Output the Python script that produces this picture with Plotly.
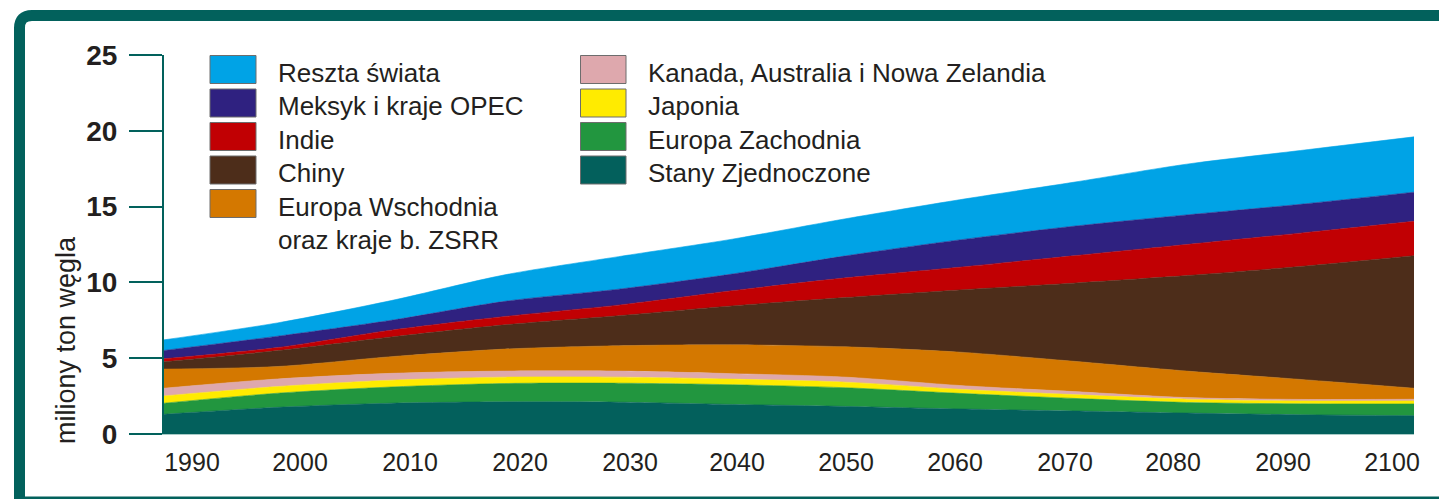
import plotly.graph_objects as go

# ---- data (miliony ton węgla), layer thickness per decade ----
years = [1990, 2000, 2010, 2020, 2030, 2040, 2050, 2060, 2070, 2080, 2090, 2100]

stany_zjednoczone = [1.30, 1.76, 2.03, 2.12, 2.10, 1.95, 1.82, 1.65, 1.52, 1.38, 1.27, 1.21]
europa_zachodnia = [0.73, 0.93, 1.07, 1.21, 1.25, 1.30, 1.23, 1.03, 0.83, 0.70, 0.72, 0.77]
japonia = [0.48, 0.44, 0.45, 0.42, 0.40, 0.37, 0.37, 0.27, 0.25, 0.22, 0.19, 0.20]
kanada_australia_nz = [0.51, 0.50, 0.45, 0.40, 0.40, 0.36, 0.33, 0.25, 0.20, 0.10, 0.10, 0.11]
europa_wschodnia = [1.26, 0.82, 1.10, 1.45, 1.67, 1.90, 2.00, 2.20, 2.00, 1.75, 1.32, 0.73]
chiny = [0.48, 1.05, 1.30, 1.60, 1.98, 2.57, 3.25, 4.10, 5.15, 6.30, 7.45, 8.74]
indie = [0.20, 0.20, 0.45, 0.55, 0.70, 1.00, 1.30, 1.50, 1.80, 2.05, 2.20, 2.27]
meksyk_opec = [0.55, 0.75, 0.65, 1.00, 1.05, 1.10, 1.45, 1.80, 1.95, 1.95, 1.90, 1.92]
reszta_swiata = [0.70, 0.88, 1.30, 1.75, 2.15, 2.30, 2.45, 2.65, 2.90, 3.35, 3.55, 3.65]

x_tick_labels = ["1990", "2000", "2010", "2020", "2030", "2040",
                 "2050", "2060", "2070", "2080", "2090", "2100"]
y_tick_values = [0, 5, 10, 15, 20, 25]

series = [
    ("Stany Zjednoczone", stany_zjednoczone, "#03605c"),
    ("Europa Zachodnia", europa_zachodnia, "#22963f"),
    ("Japonia", japonia, "#ffeb00"),
    ("Kanada, Australia i Nowa Zelandia", kanada_australia_nz, "#dea8ad"),
    ("Europa Wschodnia oraz kraje b. ZSRR", europa_wschodnia, "#d47800"),
    ("Chiny", chiny, "#4d2d1a"),
    ("Indie", indie, "#c10003"),
    ("Meksyk i kraje OPEC", meksyk_opec, "#2f2180"),
    ("Reszta świata", reszta_swiata, "#00a3e6"),
]

TEAL = "#02615c"
TXT = "#231f20"
FONT = "Liberation Sans"

fig = go.Figure()
for name, vals, col in series:
    fig.add_trace(go.Scatter(
        x=years, y=vals, name=name, mode="lines", stackgroup="one",
        line=dict(color=col, width=0.6, shape="spline", smoothing=0.8),
        fillcolor=col, showlegend=False, hoverinfo="x+y+name"))

# ---- layout geometry (page pixels) ----
W, H = 1439, 499
L, R, T, B = 164, 1414, 55, 434          # plot area in page pixels
def px(x):
    return (x - L) / (R - L)
def py(y):
    return (B - y) / (B - T)

# tick label positions (as drawn in the original, slightly offset from data years)
tick_pos = [1990 + (c - L) / (R - L) * 110 for c in
            [192, 300, 410, 520, 630, 737, 846, 955, 1065, 1173, 1283, 1392]]

shapes = []
annotations = []

# frame (rounded top-left corner)
path = (f"M {px(19.5)},{py(520)} L {px(19.5)},{py(28)} "
        f"Q {px(19.5)},{py(15.5)} {px(32)},{py(15.5)} L {px(1460)},{py(15.5)}")
shapes.append(dict(type="path", xref="paper", yref="paper", path=path,
                   line=dict(color=TEAL, width=11)))
shapes.append(dict(type="rect", xref="paper", yref="paper",
                   x0=px(14), x1=px(1460), y0=py(496.5), y1=py(520),
                   fillcolor=TEAL, line=dict(width=0)))

# manual legend
col1 = [("Reszta świata", "#00a3e6"), ("Meksyk i kraje OPEC", "#2f2180"),
        ("Indie", "#c10003"), ("Chiny", "#4d2d1a"),
        ("Europa Wschodnia", "#d47800")]
col2 = [("Kanada, Australia i Nowa Zelandia", "#dea8ad"), ("Japonia", "#ffeb00"),
        ("Europa Zachodnia", "#22963f"), ("Stany Zjednoczone", "#03605c")]
row_top = [55.5, 89, 122.5, 156, 189.5]
for cols, sx0, sx1, tx in [(col1, 210, 256, 276), (col2, 580.5, 626, 646)]:
    for i, (label, col) in enumerate(cols):
        y0 = row_top[i]
        shapes.append(dict(type="rect", xref="paper", yref="paper",
                           x0=px(sx0), x1=px(sx1), y0=py(y0 + 28), y1=py(y0),
                           fillcolor=col, line=dict(color="#6d6d6d", width=1)))
        annotations.append(dict(xref="paper", yref="paper", x=px(tx), y=py(y0 + 17),
                                text=label, showarrow=False, xanchor="left",
                                yanchor="middle",
                                font=dict(family=FONT, size=26, color=TXT)))
annotations.append(dict(xref="paper", yref="paper", x=px(276), y=py(189.5 + 17 + 33),
                        text="oraz kraje b. ZSRR", showarrow=False, xanchor="left",
                        yanchor="middle", font=dict(family=FONT, size=26, color=TXT)))

# y-axis title
annotations.append(dict(xref="paper", yref="paper", x=px(66), y=py(340),
                        text="miliony ton węgla", textangle=-90, showarrow=False,
                        xanchor="center", yanchor="middle",
                        font=dict(family=FONT, size=27, color=TXT)))

fig.update_layout(
    width=W, height=H, autosize=False,
    margin=dict(l=L, r=W - R, t=T, b=H - B),
    paper_bgcolor="white", plot_bgcolor="white",
    shapes=shapes, annotations=annotations,
    xaxis=dict(range=[1990, 2100], tickvals=tick_pos, ticktext=x_tick_labels,
               ticks="", showgrid=False, zeroline=False,
               showline=True, linecolor="#a9cbc7", linewidth=1,
               tickfont=dict(family=FONT, size=25, color=TXT),
               ticklabelstandoff=6),
    yaxis=dict(range=[0, 25], tickvals=y_tick_values, showgrid=False,
               zeroline=False, showline=True, linecolor=TEAL, linewidth=2,
               ticks="outside", ticklen=33, tickwidth=2, tickcolor=TEAL,
               tickfont=dict(family=FONT, size=28, color=TXT, weight="bold"),
               ticklabelstandoff=6),
)

# page body without margin / scrollbars so the figure fills the window exactly
fig.write_html(
    "out.html",
    config={"displayModeBar": False},
    post_script=("document.body.style.margin='0';"
                 "document.body.style.overflow='hidden';"
                 "document.documentElement.style.overflow='hidden';"),
)
